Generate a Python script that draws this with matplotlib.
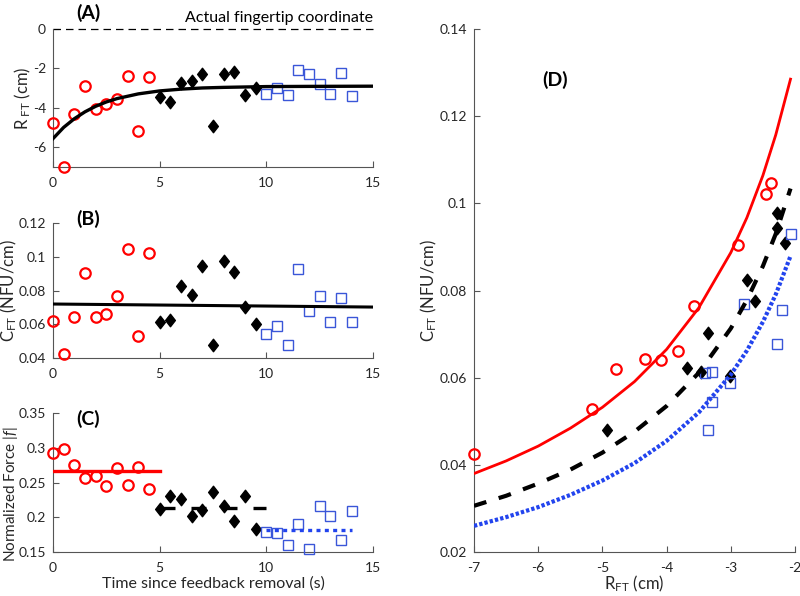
import numpy as np
import matplotlib
matplotlib.use("Agg")
from matplotlib import pyplot as plt
from matplotlib.path import Path

plt.rcParams['font.family'] = ['Lato', 'DejaVu Sans']
plt.rcParams['mathtext.fontset'] = 'custom'
plt.rcParams['mathtext.rm'] = 'Lato'
plt.rcParams['mathtext.it'] = 'Lato:italic'
plt.rcParams['axes.unicode_minus'] = False

# Time since feedback removal (s) for the three phases
t_red = [0, 0.5, 1, 1.5, 2, 2.5, 3, 3.5, 4, 4.5]
t_black = [5, 5.5, 6, 6.5, 7, 7.5, 8, 8.5, 9, 9.5]
t_blue = [10, 10.5, 11, 11.5, 12, 12.5, 13, 13.5, 14]

# (A) fingertip coordinate R_FT (cm)
R_red = [-4.79, -7.0, -4.33, -2.89, -4.08, -3.82, -3.57, -2.38, -5.16, -2.45]
R_black = [-3.47, -3.69, -2.75, -2.63, -2.28, -4.93, -2.28, -2.16, -3.35, -3.01]
R_blue = [-3.30, -3.01, -3.35, -2.07, -2.28, -2.79, -3.30, -2.21, -3.40]

# (B) stiffness C_FT (NFU/cm)
C_red = [0.0621, 0.0424, 0.0643, 0.0904, 0.0641, 0.0661, 0.0765, 0.1046, 0.0528, 0.1022]
C_black = [0.0613, 0.0623, 0.0825, 0.0775, 0.0943, 0.0479, 0.0977, 0.0908, 0.0702, 0.0604]
C_blue = [0.0544, 0.0588, 0.0479, 0.0929, 0.0677, 0.0769, 0.0613, 0.0756, 0.0611]

# (C) normalized force |f|
F_red = [0.2924, 0.2987, 0.2752, 0.2565, 0.2589, 0.2454, 0.2709, 0.2469, 0.2723, 0.2411]
F_black = [0.2119, 0.2301, 0.2263, 0.2013, 0.2109, 0.2359, 0.2157, 0.1941, 0.2301, 0.1831]
F_blue = [0.1783, 0.1774, 0.1596, 0.1903, 0.1543, 0.2157, 0.2013, 0.1668, 0.2090]

# fitted curves
fitA_t = [0, 0.5, 1, 1.5, 2, 2.5, 3, 4, 5, 6, 7, 8, 10, 12, 15]
fitA_R = [-5.56, -4.99, -4.55, -4.20, -3.92, -3.70, -3.53, -3.29, -3.14, -3.05, -2.99, -2.96, -2.92, -2.91, -2.90]
fitB_t = [0, 15]
fitB_C = [0.0720, 0.0702]
level_red = 0.266
level_black = 0.214
level_blue = 0.182

fitD_R = [-7, -6.5, -6, -5.5, -5, -4.5, -4, -3.5, -3, -2.75, -2.5, -2.3, -2.07]
fitD_red = [0.0380, 0.0409, 0.0443, 0.0484, 0.0532, 0.0591, 0.0665, 0.0760, 0.0887, 0.0967, 0.1064, 0.1157, 0.1285]
fitD_black = [0.0306, 0.0329, 0.0357, 0.0389, 0.0428, 0.0476, 0.0535, 0.0611, 0.0713, 0.0778, 0.0856, 0.0930, 0.1034]
fitD_blue = [0.0260, 0.0280, 0.0303, 0.0331, 0.0364, 0.0404, 0.0455, 0.0520, 0.0607, 0.0662, 0.0728, 0.0791, 0.0879]

RED = '#FF0000'
SQ_BLUE = '#3A56D8'
LINE_BLUE = '#2244EE'
AX_GRAY = '#555555'
TXT = '#262626'

# MATLAB-like diamond (a bit wider than matplotlib's thin diamond)
diamond = Path([(-0.78, 0), (0, 1), (0.78, 0), (0, -1), (-0.78, 0)],
               [Path.MOVETO, Path.LINETO, Path.LINETO, Path.LINETO, Path.CLOSEPOLY])


def style(ax, xticks, yticks, ylabels):
    for s in ['top', 'right']:
        ax.spines[s].set_visible(False)
    for s in ['left', 'bottom']:
        ax.spines[s].set_color(AX_GRAY)
        ax.spines[s].set_linewidth(0.8)
    ax.set_xticks(xticks)
    ax.set_xticklabels([('%g' % v) for v in xticks])
    ax.set_yticks(yticks)
    ax.set_yticklabels(ylabels)
    ax.tick_params(direction='in', length=4, width=0.8, colors=AX_GRAY,
                   labelcolor=TXT, labelsize=10)
    ax.tick_params(axis='x', pad=7)
    ax.tick_params(axis='y', pad=5)


def markers(ax, xr, yr, xb, yb, xq, yq):
    ax.plot(xr, yr, 'o', mfc='none', mec=RED, mew=1.6, ms=7.5, clip_on=False, zorder=3)
    ax.plot(xb, yb, marker=diamond, ls='none', color='k', ms=9, clip_on=False, zorder=3)
    ax.plot(xq, yq, 's', mfc='none', mec=SQ_BLUE, mew=1.0, ms=6.8, clip_on=False, zorder=3)


fig = plt.figure(figsize=(8, 5.96), dpi=100)
axA = fig.add_axes([0.06625, 0.7198, 0.4, 0.2315])
axB = fig.add_axes([0.06625, 0.3993, 0.4, 0.2265])
axC = fig.add_axes([0.06625, 0.0738, 0.4, 0.2332])
axD = fig.add_axes([0.5925, 0.0738, 0.40125, 0.8775])

xt = [0, 5, 10, 15]

# Panel A
markers(axA, t_red, R_red, t_black, R_black, t_blue, R_blue)
axA.plot(fitA_t, fitA_R, color='k', lw=2.4, zorder=4)
axA.plot([0, 15], [0, 0], color='k', lw=0.9, dashes=(6, 4), clip_on=False)
axA.set_xlim(0, 15)
axA.set_ylim(-7, 0)
style(axA, xt, [-6, -4, -2, 0], ['-6', '-4', '-2', '0'])
axA.set_ylabel(r'R$_{\ \mathrm{FT}}$ (cm)', fontsize=12, color=TXT)
axA.yaxis.set_label_coords(-0.062, 0.5)
axA.text(0.11, 1.12, '(A)', transform=axA.transAxes, ha='center', va='center',
         fontsize=14, fontweight='bold', color='k')
axA.text(1.0, 1.078, 'Actual fingertip coordinate', transform=axA.transAxes,
         ha='right', va='center', fontsize=11.5, color='k')

# Panel B
markers(axB, t_red, C_red, t_black, C_black, t_blue, C_blue)
axB.plot(fitB_t, fitB_C, color='k', lw=2.2, zorder=4)
axB.set_xlim(0, 15)
axB.set_ylim(0.04, 0.12)
style(axB, xt, [0.04, 0.06, 0.08, 0.1, 0.12], ['0.04', '0.06', '0.08', '0.1', '0.12'])
axB.set_ylabel(r'C$_{\mathrm{FT}}$ (NFU/cm)', fontsize=12, color=TXT)
axB.yaxis.set_label_coords(-0.105, 0.5)
axB.text(0.11, 1.033, '(B)', transform=axB.transAxes, ha='center', va='center',
         fontsize=14, fontweight='bold', color='k')

# Panel C
markers(axC, t_red, F_red, t_black, F_black, t_blue, F_blue)
axC.plot([0, 5], [level_red, level_red], color=RED, lw=2.4, zorder=4)
axC.plot([5, 10], [level_black, level_black], color='k', lw=2.4, dashes=(4.5, 4.8), zorder=4)
axC.plot([10, 14], [level_blue, level_blue], color=LINE_BLUE, lw=2.4, dashes=(1.2, 1.3), zorder=4)
axC.set_xlim(0, 15)
axC.set_ylim(0.15, 0.35)
style(axC, xt, [0.15, 0.2, 0.25, 0.3, 0.35], ['0.15', '0.2', '0.25', '0.3', '0.35'])
axC.set_ylabel(r'Normalized Force $|f|$', fontsize=11, color=TXT)
axC.yaxis.set_label_coords(-0.104, 0.42)
axC.set_xlabel('Time since feedback removal (s)', fontsize=11.5, color=TXT, labelpad=2)
axC.text(0.11, 0.957, '(C)', transform=axC.transAxes, ha='center', va='center',
         fontsize=14, fontweight='bold', color='k')

# Panel D
markers(axD, R_red, C_red, R_black, C_black, R_blue, C_blue)
axD.plot(fitD_R, fitD_red, color=RED, lw=2.0, zorder=4)
axD.plot(fitD_R, fitD_black, color='k', lw=3.0, dashes=(3.1, 3.1), zorder=4)
axD.plot(fitD_R, fitD_blue, color=LINE_BLUE, lw=3.0, dashes=(0.8, 0.5), zorder=4)
axD.set_xlim(-7, -2)
axD.set_ylim(0.02, 0.14)
style(axD, [-7, -6, -5, -4, -3, -2], [0.02, 0.04, 0.06, 0.08, 0.1, 0.12, 0.14],
      ['0.02', '0.04', '0.06', '0.08', '0.1', '0.12', '0.14'])
axD.set_xlabel(r'R$_{\mathrm{FT}}$ (cm)', fontsize=12, color=TXT, labelpad=0)
axD.set_ylabel(r'C$_{\mathrm{FT}}$ (NFU/cm)', fontsize=12, color=TXT)
axD.yaxis.set_label_coords(-0.11, 0.5)
axD.text(0.252, 0.902, '(D)', transform=axD.transAxes, ha='center', va='center',
         fontsize=14, fontweight='bold', color='k')

fig.savefig('out.png', dpi=100)
